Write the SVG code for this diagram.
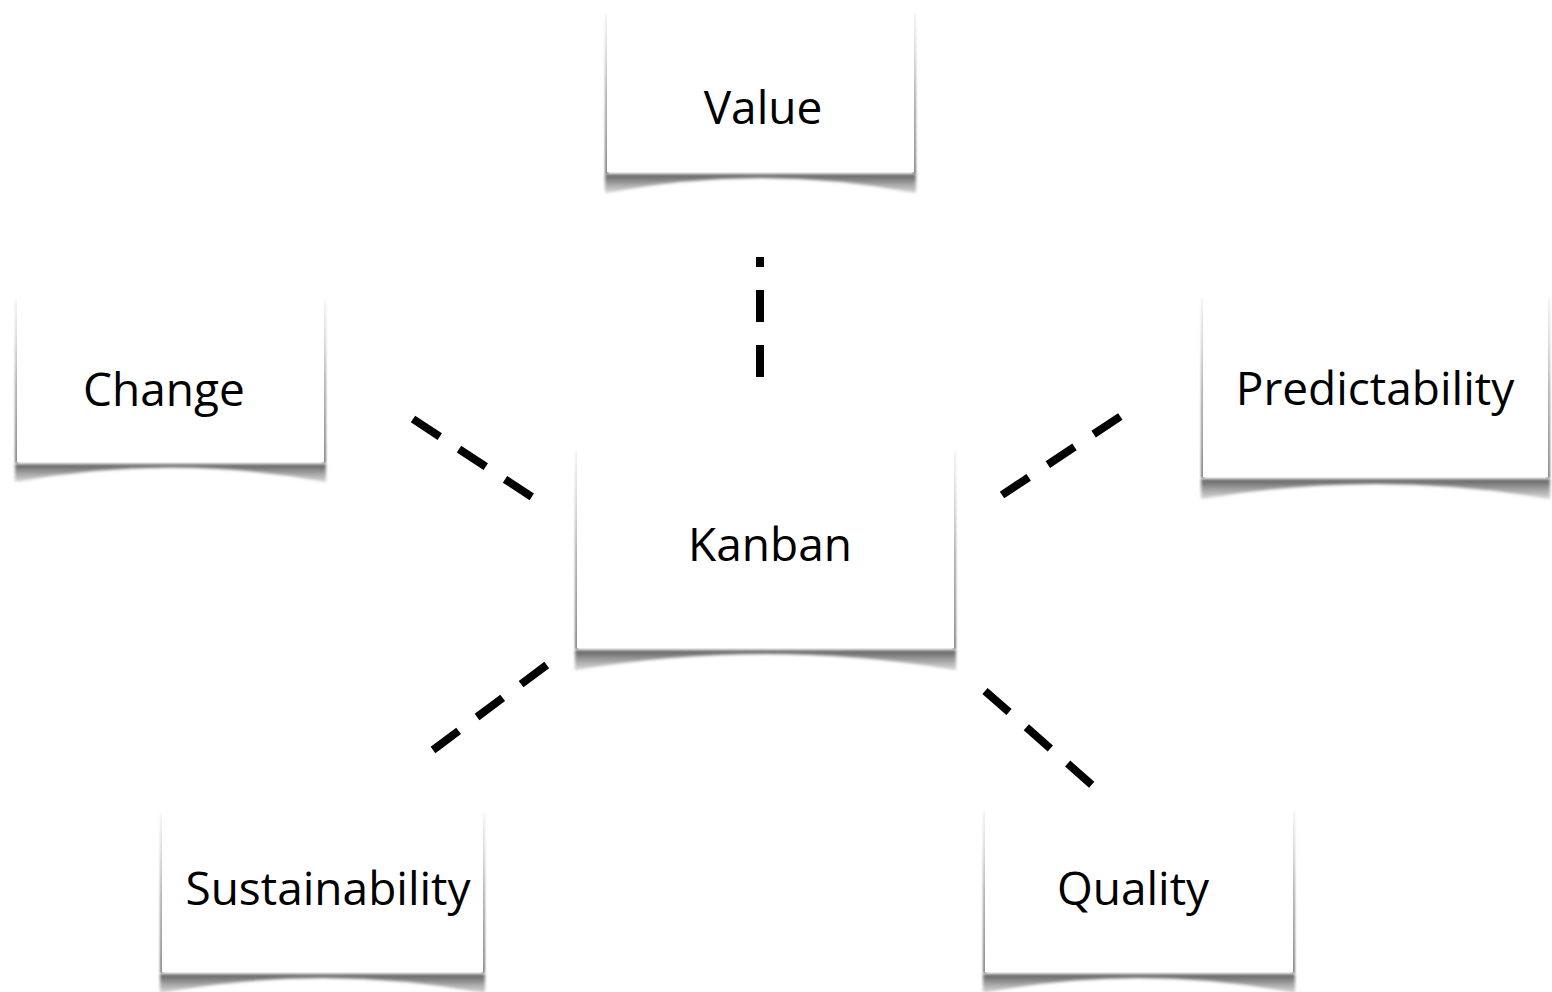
<svg xmlns="http://www.w3.org/2000/svg" width="1552" height="992" viewBox="0 0 1552 992">
  <defs>
    <style>
      .card { fill: #ffffff; }
      .curl { fill: url(#curlShade); filter: url(#soft); }
      .side { fill: url(#sideShade); filter: url(#softer); }
      .label { font-family: "Open Sans", "Noto Sans", "DejaVu Sans", sans-serif; font-size: 46px; fill: #000000; text-anchor: middle; }
      .link { stroke: #000000; stroke-width: 8; stroke-dasharray: 32 23; fill: none; }
    </style>
    <linearGradient id="curlShade" x1="0" y1="0" x2="0" y2="1">
      <stop offset="0" stop-color="#5e5e5e"/>
      <stop offset="0.35" stop-color="#8c8c8c"/>
      <stop offset="1" stop-color="#b8b8b8" stop-opacity="0.6"/>
    </linearGradient>
    <linearGradient id="sideShade" x1="0" y1="0" x2="0" y2="1">
      <stop offset="0" stop-color="#bbbbbb" stop-opacity="0.2"/>
      <stop offset="0.5" stop-color="#999999" stop-opacity="0.85"/>
      <stop offset="1" stop-color="#777777" stop-opacity="1"/>
    </linearGradient>
    <filter id="soft" x="-5%" y="-50%" width="110%" height="200%">
      <feGaussianBlur stdDeviation="1.5"/>
    </filter>
    <filter id="softer" x="-200%" y="-5%" width="500%" height="110%">
      <feGaussianBlur stdDeviation="0.8"/>
    </filter>
  </defs>

  <!-- dashed links from the centre card to each outer card -->
  <g id="connectors">
    <line class="link" x1="760" y1="377" x2="760" y2="257"/>
    <line class="link" x1="413" y1="419" x2="532" y2="497"/>
    <line class="link" x1="1002" y1="495" x2="1121" y2="416"/>
    <line class="link" x1="433" y1="750" x2="548" y2="664"/>
    <line class="link" x1="985" y1="691" x2="1092" y2="785"/>
  </g>

  <!-- Value: x 607..914, y 10..172 -->
  <g id="node-value">
    <path class="curl" d="M605 174 L916 174 L916 193 Q760.5 163 605 193 Z"/>
    <rect class="side" x="605" y="14" width="3" height="160"/>
    <rect class="side" x="913" y="14" width="3" height="160"/>
    <rect class="card" x="607" y="10" width="307" height="162"/>
    <text class="label" x="763" y="124">Value</text>
  </g>

  <!-- Change: x 17..324, y 296..462 -->
  <g id="node-change">
    <path class="curl" d="M15 464 L326 464 L326 482 Q170.5 453 15 482 Z"/>
    <rect class="side" x="15" y="300" width="3" height="163"/>
    <rect class="side" x="323" y="300" width="3" height="163"/>
    <rect class="card" x="17" y="296" width="307" height="166"/>
    <text class="label" x="164" y="406">Change</text>
  </g>

  <!-- Kanban: x 577..954, y 447..648 -->
  <g id="node-kanban">
    <path class="curl" d="M575 650 L956 650 L956 670 Q765.5 638 575 670 Z"/>
    <rect class="side" x="575" y="451" width="3" height="198"/>
    <rect class="side" x="953" y="451" width="3" height="198"/>
    <rect class="card" x="577" y="447" width="377" height="201"/>
    <text class="label" x="770" y="561">Kanban</text>
  </g>

  <!-- Predictability: x 1203..1548, y 294..477 -->
  <g id="node-predictability">
    <path class="curl" d="M1201 479 L1550 479 L1550 499 Q1375.5 469 1201 499 Z"/>
    <rect class="side" x="1201" y="298" width="3" height="180"/>
    <rect class="side" x="1547" y="298" width="3" height="180"/>
    <rect class="card" x="1203" y="294" width="345" height="183"/>
    <text class="label" x="1375" y="405">Predictability</text>
  </g>

  <!-- Sustainability: x 162..483, y 810..972 -->
  <g id="node-sustainability">
    <path class="curl" d="M160 974 L485 974 L485 993 Q322.5 963 160 993 Z"/>
    <rect class="side" x="160" y="814" width="3" height="159"/>
    <rect class="side" x="482" y="814" width="3" height="159"/>
    <rect class="card" x="162" y="810" width="321" height="162"/>
    <text class="label" x="328" y="905">Sustainability</text>
  </g>

  <!-- Quality: x 985..1293, y 807..972 -->
  <g id="node-quality">
    <path class="curl" d="M983 974 L1295 974 L1295 993 Q1139 963 983 993 Z"/>
    <rect class="side" x="983" y="811" width="3" height="162"/>
    <rect class="side" x="1292" y="811" width="3" height="162"/>
    <rect class="card" x="985" y="807" width="308" height="165"/>
    <text class="label" x="1133" y="905">Quality</text>
  </g>
</svg>
